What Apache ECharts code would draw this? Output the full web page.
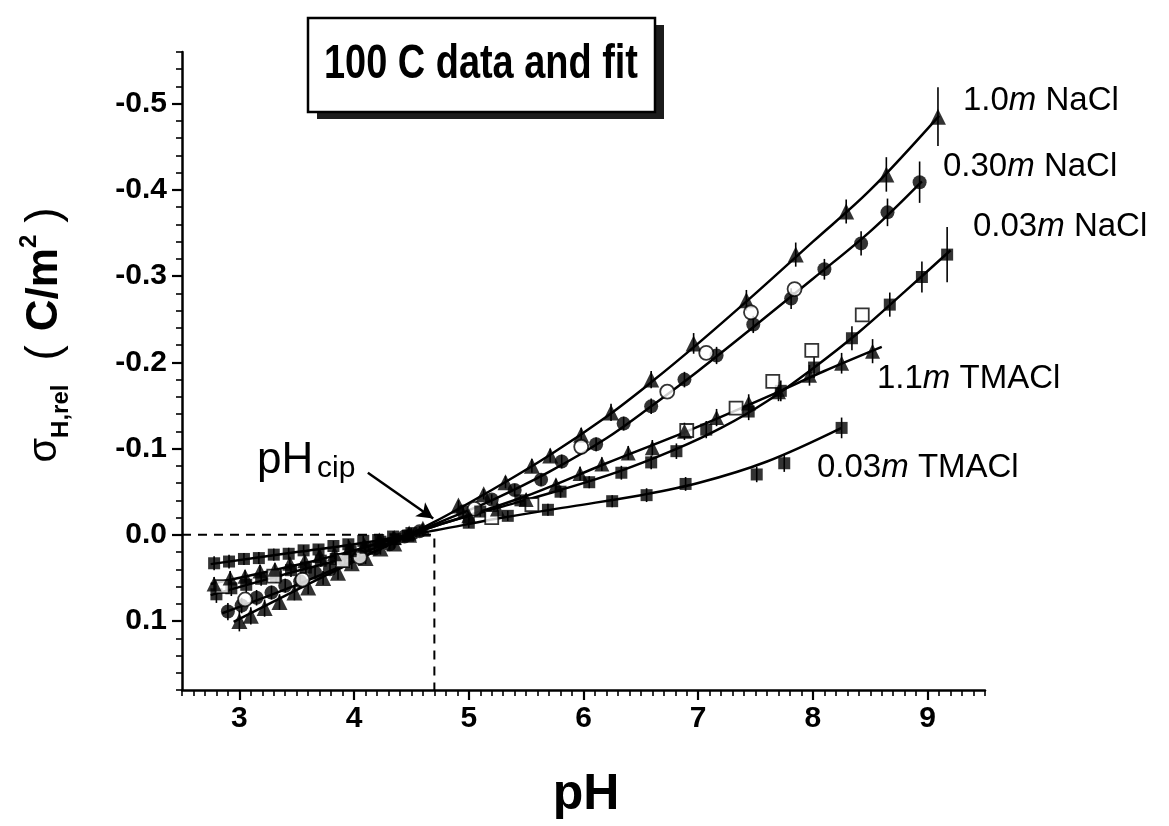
<!DOCTYPE html>
<html>
<head>
<meta charset="utf-8">
<script src="https://cdn.jsdelivr.net/npm/echarts@6.0.0/dist/echarts.min.js"></script>
<style>
  html, body { margin: 0; padding: 0; background: #fff; }
  #chart { width: 1169px; height: 826px; }
</style>
</head>
<body>
<div id="chart"></div>
<script>
// Axis ticks
const xTicks = [3, 4, 5, 6, 7, 8, 9];
const yTicks = [-0.5, -0.4, -0.3, -0.2, -0.1, 0.0, 0.1];
const xRange = [2.5, 9.5];
const yRange = [-0.56, 0.18];

// Common intersection point
const cipPH = 4.7;
const arrowFrom = [4.12, -0.072];
const arrowTo = [4.69, -0.019];

// 1.0 m NaCl (filled triangles)
const nacl10_pH  = [3.00, 3.10, 3.22, 3.35, 3.48, 3.60, 3.73, 3.86, 3.98, 4.10, 4.23, 4.35, 4.48, 4.60, 4.91, 5.13, 5.32, 5.55, 5.71, 5.98, 6.24, 6.59, 6.96, 7.42, 7.85, 8.29, 8.64, 9.09];
const nacl10_sig = [0.100, 0.094, 0.085, 0.078, 0.067, 0.061, 0.050, 0.044, 0.033, 0.027, 0.016, 0.010, 0.000, -0.007, -0.034, -0.047, -0.061, -0.080, -0.092, -0.116, -0.142, -0.180, -0.222, -0.272, -0.325, -0.375, -0.418, -0.485];
const nacl10_err = [0.012, 0.010, 0.010, 0.009, 0.009, 0.008, 0.008, 0.008, 0.007, 0.007, 0.007, 0.006, 0.006, 0.006, 0.006, 0.006, 0.007, 0.008, 0.008, 0.008, 0.010, 0.010, 0.012, 0.012, 0.014, 0.014, 0.020, 0.034];
const nacl10_fitPH  = [2.95, 3.5, 4.0, 4.7, 5.2, 5.7, 6.2, 6.6, 7.0, 7.5, 8.0, 8.5, 9.1];
const nacl10_fitSig = [0.101, 0.064, 0.031, -0.015, -0.052, -0.092, -0.137, -0.178, -0.222, -0.280, -0.340, -0.400, -0.486];

// 0.30 m NaCl (filled circles, plus a second run as open circles)
const nacl03_pH  = [2.90, 3.02, 3.15, 3.28, 3.40, 3.53, 3.66, 3.79, 3.92, 4.05, 4.18, 4.31, 4.44, 4.57, 4.95, 5.20, 5.40, 5.63, 5.81, 6.11, 6.35, 6.59, 6.88, 7.16, 7.48, 7.81, 8.10, 8.42, 8.65, 8.93];
const nacl03_sig = [0.089, 0.082, 0.073, 0.067, 0.059, 0.054, 0.044, 0.040, 0.030, 0.025, 0.016, 0.011, 0.002, -0.004, -0.027, -0.041, -0.052, -0.064, -0.085, -0.105, -0.129, -0.149, -0.180, -0.208, -0.244, -0.274, -0.308, -0.338, -0.374, -0.409];
const nacl03_err = [0.010, 0.009, 0.009, 0.008, 0.008, 0.008, 0.007, 0.007, 0.007, 0.006, 0.006, 0.006, 0.006, 0.006, 0.006, 0.006, 0.007, 0.007, 0.008, 0.008, 0.008, 0.009, 0.009, 0.010, 0.010, 0.012, 0.012, 0.014, 0.016, 0.024];
const nacl03b_pH  = [3.05, 3.55, 4.05, 5.05, 5.98, 6.73, 7.07, 7.46, 7.84];
const nacl03b_sig = [0.075, 0.052, 0.026, -0.030, -0.102, -0.166, -0.211, -0.258, -0.285];
const nacl03_fitPH  = [2.85, 3.5, 4.0, 4.7, 5.2, 5.7, 6.2, 6.6, 7.0, 7.5, 8.0, 8.5, 8.95];
const nacl03_fitSig = [0.091, 0.058, 0.030, -0.012, -0.040, -0.073, -0.112, -0.150, -0.190, -0.243, -0.297, -0.352, -0.410];

// 0.03 m NaCl (filled squares, plus a second run as open squares)
const nacl003_pH  = [2.80, 2.93, 3.06, 3.19, 3.32, 3.45, 3.58, 3.71, 3.84, 3.97, 4.10, 4.23, 4.36, 4.50, 5.10, 5.45, 5.80, 6.05, 6.33, 6.59, 6.81, 7.07, 7.44, 7.72, 8.01, 8.34, 8.67, 8.95, 9.17];
const nacl003_sig = [0.069, 0.062, 0.058, 0.051, 0.048, 0.041, 0.038, 0.030, 0.028, 0.019, 0.015, 0.008, 0.005, -0.002, -0.027, -0.040, -0.050, -0.061, -0.072, -0.084, -0.097, -0.122, -0.143, -0.167, -0.194, -0.228, -0.267, -0.299, -0.325];
const nacl003_err = [0.010, 0.009, 0.009, 0.008, 0.008, 0.008, 0.007, 0.007, 0.007, 0.006, 0.006, 0.006, 0.006, 0.006, 0.006, 0.006, 0.007, 0.007, 0.008, 0.008, 0.009, 0.010, 0.010, 0.012, 0.012, 0.014, 0.014, 0.018, 0.032];
const nacl003b_pH  = [2.85, 3.30, 3.90, 5.20, 5.55, 6.90, 7.33, 7.65, 7.99, 8.43];
const nacl003b_sig = [0.060, 0.048, 0.030, -0.020, -0.035, -0.121, -0.147, -0.178, -0.214, -0.255];
const nacl003_fitPH  = [2.75, 3.5, 4.0, 4.7, 5.3, 5.8, 6.3, 6.8, 7.2, 7.6, 8.0, 8.4, 8.8, 9.2];
const nacl003_fitSig = [0.070, 0.042, 0.024, -0.010, -0.033, -0.052, -0.073, -0.099, -0.124, -0.155, -0.193, -0.235, -0.282, -0.330];

// 1.1 m TMACl (filled triangles)
const tma11_pH  = [2.78, 2.92, 3.05, 3.18, 3.31, 3.44, 3.57, 3.70, 3.83, 3.96, 4.09, 4.22, 4.35, 4.48, 5.00, 5.25, 5.50, 5.76, 5.97, 6.16, 6.39, 6.60, 6.88, 7.16, 7.44, 7.70, 7.97, 8.25, 8.52];
const tma11_sig = [0.057, 0.050, 0.048, 0.042, 0.040, 0.033, 0.030, 0.024, 0.022, 0.015, 0.012, 0.006, 0.003, -0.002, -0.022, -0.030, -0.041, -0.058, -0.071, -0.082, -0.095, -0.101, -0.120, -0.136, -0.153, -0.166, -0.185, -0.199, -0.213];
const tma11_err = [0.008, 0.008, 0.007, 0.007, 0.007, 0.007, 0.006, 0.006, 0.006, 0.006, 0.006, 0.006, 0.006, 0.006, 0.006, 0.006, 0.007, 0.007, 0.008, 0.008, 0.008, 0.009, 0.010, 0.010, 0.010, 0.011, 0.012, 0.012, 0.014];
const tma11_fitPH  = [2.75, 3.5, 4.0, 4.7, 5.5, 6.2, 6.9, 7.6, 8.1, 8.6];
const tma11_fitSig = [0.057, 0.035, 0.018, -0.010, -0.045, -0.083, -0.120, -0.160, -0.190, -0.218];

// 0.03 m TMACl (filled squares)
const tma003_pH  = [2.78, 2.91, 3.04, 3.17, 3.30, 3.43, 3.56, 3.69, 3.82, 3.95, 4.08, 4.21, 4.34, 4.47, 5.00, 5.34, 5.69, 6.25, 6.55, 6.89, 7.51, 7.75, 8.25];
const tma003_sig = [0.033, 0.031, 0.028, 0.027, 0.023, 0.022, 0.018, 0.017, 0.013, 0.011, 0.007, 0.006, 0.002, 0.001, -0.014, -0.022, -0.029, -0.039, -0.046, -0.059, -0.070, -0.083, -0.124];
const tma003_err = [0.008, 0.008, 0.007, 0.007, 0.007, 0.007, 0.006, 0.006, 0.006, 0.006, 0.006, 0.006, 0.006, 0.006, 0.006, 0.006, 0.007, 0.007, 0.008, 0.008, 0.009, 0.010, 0.012];
const tma003_fitPH  = [2.75, 3.5, 4.0, 4.7, 5.3, 5.9, 6.5, 7.0, 7.6, 8.25];
const tma003_fitSig = [0.034, 0.020, 0.011, -0.005, -0.020, -0.033, -0.046, -0.060, -0.085, -0.124];

// Curve labels (rich text: italic molality unit)
const curveLabels = ['1.0{i|m} NaCl', '0.30{i|m} NaCl', '0.03{i|m} NaCl', '1.1{i|m} TMACl', '0.03{i|m} TMACl'];

const FONT = '"Liberation Sans", Arial, Helvetica, sans-serif';
const BLACK = '#000';

const pairs = (xs, ys) => xs.map((x, i) => [x, ys[i]]);

function fitLine(xs, ys) {
  return {
    type: 'line', data: pairs(xs, ys), symbol: 'none', smooth: 0.35,
    lineStyle: { color: BLACK, width: 2.5 }, z: 3, silent: true
  };
}

function markers(xs, ys, symbol, size, filled) {
  return {
    type: 'scatter', data: pairs(xs, ys), symbol: symbol, symbolSize: size,
    itemStyle: filled ? { color: BLACK } : { color: '#fff', borderColor: BLACK, borderWidth: 1.8 },
    z: 4, silent: true
  };
}

function errorBars(xs, ys, es) {
  return {
    type: 'custom',
    data: xs.map((x, i) => [x, ys[i], es[i]]),
    renderItem: (params, api) => {
      const x = api.value(0), y = api.value(1), e = api.value(2);
      const a = api.coord([x, y - e]);
      const b = api.coord([x, y + e]);
      return { type: 'line', shape: { x1: a[0], y1: a[1], x2: b[0], y2: b[1] },
               style: { stroke: BLACK, lineWidth: 1.6 } };
    },
    z: 2, silent: true
  };
}

function curveLabel(text, x, baseline) {
  const fs = 33;
  return {
    type: 'text', x: x, y: baseline - 0.33 * fs,
    style: {
      text: text, fill: BLACK, font: `${fs}px ${FONT}`,
      align: 'left', verticalAlign: 'middle', textAlign: 'left', textVerticalAlign: 'middle',
      rich: { i: { fontStyle: 'italic', fontSize: fs, fontFamily: FONT, fill: BLACK } }
    }
  };
}

const chart = echarts.init(document.getElementById('chart'));

const axisLabelFont = { color: BLACK, fontFamily: FONT, fontWeight: 'bold', fontSize: 30 };

const option = {
  animation: false,
  backgroundColor: '#fff',
  grid: { left: 182, right: 184, top: 52, bottom: 136, containLabel: false },
  xAxis: [
    {
      type: 'value', min: xRange[0], max: xRange[1], position: 'bottom',
      axisLine: { onZero: false, lineStyle: { color: BLACK, width: 2.5 } },
      axisTick: { customValues: xTicks, length: 10, lineStyle: { color: BLACK, width: 2.2 } },
      axisLabel: Object.assign({ customValues: xTicks, margin: 14, formatter: v => String(v) }, axisLabelFont),
      splitLine: { show: false }
    },
    {
      type: 'value', min: xRange[0], max: xRange[1], interval: 0.1, position: 'bottom',
      axisLine: { show: false, onZero: false },
      axisTick: { length: 6, lineStyle: { color: BLACK, width: 1.6 } },
      axisLabel: { show: false }, splitLine: { show: false }
    }
  ],
  yAxis: [
    {
      type: 'value', inverse: true, min: yRange[0], max: yRange[1], position: 'left',
      axisLine: { onZero: false, lineStyle: { color: BLACK, width: 2.5 } },
      axisTick: { customValues: yTicks, length: 10, lineStyle: { color: BLACK, width: 2.2 } },
      axisLabel: Object.assign({ customValues: yTicks, margin: 15, formatter: v => v.toFixed(1) }, axisLabelFont),
      splitLine: { show: false }
    },
    {
      type: 'value', inverse: true, min: yRange[0], max: yRange[1], interval: 0.02, position: 'left',
      axisLine: { show: false, onZero: false },
      axisTick: { length: 6, lineStyle: { color: BLACK, width: 1.6 } },
      axisLabel: { show: false }, splitLine: { show: false }
    }
  ],
  series: [
    // dashed guides to the common intersection point, and the pointer arrow
    {
      type: 'line', data: [[xRange[0], 0], [cipPH, 0], [cipPH, yRange[1]]], symbol: 'none',
      lineStyle: { color: BLACK, width: 2, type: [9, 7] }, z: 1, silent: true,
      markLine: {
        silent: true, symbol: ['none', 'arrow'], symbolSize: [13, 16],
        label: { show: false },
        lineStyle: { color: BLACK, width: 2.5, type: 'solid' },
        data: [[{ coord: arrowFrom }, { coord: arrowTo }]]
      }
    },
    fitLine(nacl10_fitPH, nacl10_fitSig),
    fitLine(nacl03_fitPH, nacl03_fitSig),
    fitLine(nacl003_fitPH, nacl003_fitSig),
    fitLine(tma11_fitPH, tma11_fitSig),
    fitLine(tma003_fitPH, tma003_fitSig),
    errorBars(nacl10_pH, nacl10_sig, nacl10_err),
    errorBars(nacl03_pH, nacl03_sig, nacl03_err),
    errorBars(nacl003_pH, nacl003_sig, nacl003_err),
    errorBars(tma11_pH, tma11_sig, tma11_err),
    errorBars(tma003_pH, tma003_sig, tma003_err),
    markers(nacl10_pH, nacl10_sig, 'triangle', 16, true),
    markers(nacl03_pH, nacl03_sig, 'circle', 14, true),
    markers(nacl03b_pH, nacl03b_sig, 'circle', 14, false),
    markers(nacl003_pH, nacl003_sig, 'rect', 12, true),
    markers(nacl003b_pH, nacl003b_sig, 'rect', 13, false),
    markers(tma11_pH, tma11_sig, 'triangle', 15, true),
    markers(tma003_pH, tma003_sig, 'rect', 12, true)
  ],
  graphic: [
    // title box with drop shadow
    { type: 'rect', shape: { x: 317, y: 25, width: 347, height: 94 }, style: { fill: '#1c1c1c' }, z: 10 },
    { type: 'rect', shape: { x: 308, y: 18, width: 347, height: 94 },
      style: { fill: '#fff', stroke: BLACK, lineWidth: 2.5 }, z: 11 },
    { type: 'text', x: 481, y: 65, scaleX: 0.79, z: 12,
      style: { text: '100 C data and fit', fill: BLACK, font: `bold 48px ${FONT}`,
               align: 'center', verticalAlign: 'middle', textAlign: 'center', textVerticalAlign: 'middle' } },

    // y axis title
    { type: 'text', x: 45, y: 335, rotation: Math.PI / 2, z: 12,
      style: {
        text: '{s|σ}{sub|H,rel}{p1|(}{b|C/m}{sup|2}{p2|)}',
        fill: BLACK, font: `40px ${FONT}`,
        align: 'center', verticalAlign: 'middle', textAlign: 'center', textVerticalAlign: 'middle',
        rich: {
          s:   { fontSize: 40, fontFamily: FONT, lineHeight: 56, verticalAlign: 'middle', fill: BLACK },
          sub: { fontSize: 24, fontFamily: FONT, fontWeight: 'bold', lineHeight: 24, verticalAlign: 'bottom', fill: BLACK },
          p1:  { fontSize: 46, fontFamily: FONT, lineHeight: 56, verticalAlign: 'middle', padding: [0, 14, 0, 24], fill: BLACK },
          b:   { fontSize: 44, fontFamily: FONT, fontWeight: 'bold', lineHeight: 56, verticalAlign: 'middle', fill: BLACK },
          sup: { fontSize: 24, fontFamily: FONT, fontWeight: 'bold', lineHeight: 24, verticalAlign: 'top', fill: BLACK },
          p2:  { fontSize: 46, fontFamily: FONT, lineHeight: 56, verticalAlign: 'middle', padding: [0, 0, 0, 12], fill: BLACK }
        }
      } },

    // x axis title
    { type: 'text', x: 586, y: 812 - 0.33 * 50, z: 12,
      style: { text: 'pH', fill: BLACK, font: `bold 50px ${FONT}`,
               align: 'center', verticalAlign: 'middle', textAlign: 'center', textVerticalAlign: 'middle' } },

    // pH_cip annotation
    { type: 'text', x: 257, y: 475 - 0.33 * 44, z: 12,
      style: { text: 'pH', fill: BLACK, font: `44px ${FONT}`,
               align: 'left', verticalAlign: 'middle', textAlign: 'left', textVerticalAlign: 'middle' } },
    { type: 'text', x: 317, y: 479 - 0.33 * 30, z: 12,
      style: { text: 'cip', fill: BLACK, font: `30px ${FONT}`,
               align: 'left', verticalAlign: 'middle', textAlign: 'left', textVerticalAlign: 'middle' } },

    // curve labels
    curveLabel(curveLabels[0], 963, 112),
    curveLabel(curveLabels[1], 943, 178),
    curveLabel(curveLabels[2], 973, 238),
    curveLabel(curveLabels[3], 877, 390),
    curveLabel(curveLabels[4], 817, 479)
  ]
};

chart.setOption(option);
</script>
</body>
</html>
